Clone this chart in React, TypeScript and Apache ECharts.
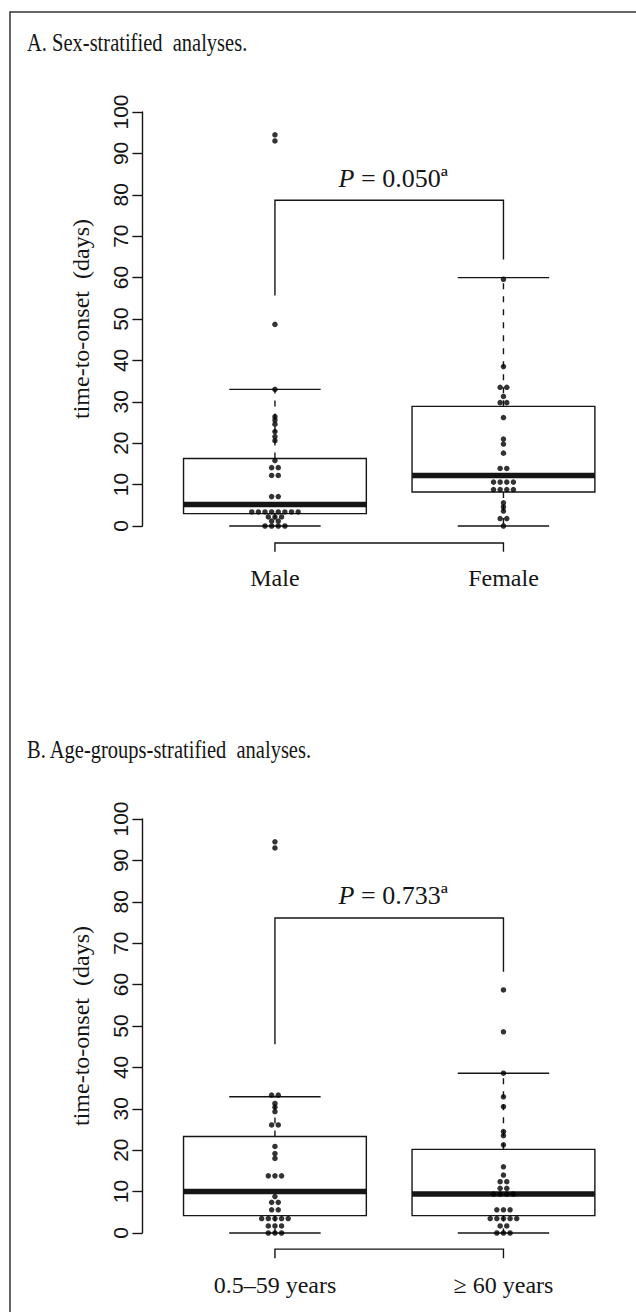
import React, { useEffect, useRef } from "react";
import * as echarts from "echarts";

// ---------- data ----------
const titleA = "A. Sex-stratified  analyses.";
const titleB = "B. Age-groups-stratified  analyses.";
const yAxisTitle = "time-to-onset  (days)";
const groupsA = ["Male", "Female"];
const groupsB = ["0.5–59 years", "≥ 60 years"];
const yTicks = [0, 10, 20, 30, 40, 50, 60, 70, 80, 90, 100];

// box statistics: [lower whisker, Q1, median, Q3, upper whisker]
const boxMaleA = [0, 3, 5.2, 16.3, 33];
const boxFemaleA = [0, 8.2, 12.2, 28.9, 60];
const boxYoungB = [0, 4.2, 10, 23.3, 32.9];
const boxOldB = [0, 4.2, 9.4, 20.2, 38.6];

// individual observations (days)
const dotsMaleA = [
  0, 0, 0, 0, 1.2, 1.2, 2.2, 2.2, 2.2, 3.4, 3.4, 3.4, 3.4, 3.4, 3.4, 3.4, 3.4,
  7.1, 7.1, 12.2, 12.2, 14.1, 14.1, 15.8, 20.6, 21.6, 22.8, 24.6, 25.6, 26.4,
  33, 48.7, 93, 94.5,
];
const dotsFemaleA = [
  0, 1.8, 1.8, 3.6, 4.6, 5.6, 8.8, 8.8, 8.8, 8.8, 10.6, 10.6, 10.6, 10.6,
  13.9, 13.9, 17.6, 19.8, 21, 26.2, 29.8, 29.8, 31.3, 33.5, 33.5, 38.5, 59.6,
];
const dotsYoungB = [
  0, 0, 0, 1.7, 1.7, 1.7, 3.5, 3.5, 3.5, 3.5, 3.5, 5.6, 5.6, 7.4, 7.4, 8.8,
  13.8, 13.8, 13.8, 18, 19.2, 20.9, 26.1, 26.1, 29.3, 30.4, 31.3, 33.3, 33.3,
  93, 94.5,
];
const dotsOldB = [
  0, 0, 0, 1.7, 1.7, 3.5, 3.5, 3.5, 3.5, 3.5, 5.6, 5.6, 5.6, 9.4, 9.4, 9.4,
  9.4, 10.8, 10.8, 12.4, 12.4, 14, 16, 21.3, 23.5, 24.5, 30.5, 32.9, 38.6,
  48.6, 58.7,
];

// comparison brackets: [top, left leg end, right leg end]
const bracketA = [78.7, 55.7, 64.4];
const bracketB = [76.1, 45.6, 63.1];
const pValueA = "0.050";
const pValueB = "0.733";
// bottom brackets: [line level, leg end]
const baseBracketA = [-4.1, -6.2];
const baseBracketB = [-3.9, -6.1];

// ---------- helpers ----------
const INK = "#151515";
const SERIF = "'Liberation Serif', 'DejaVu Serif', serif";
const SANS = "'Liberation Sans', Arial, sans-serif";
const STACK_STEP = 0.029;

function stackPoints(values: number[], center: number) {
  const counts = new Map<number, number>();
  values.forEach((v) => counts.set(v, (counts.get(v) || 0) + 1));
  const seen = new Map<number, number>();
  return values.map((v) => {
    const n = counts.get(v) as number;
    const i = seen.get(v) || 0;
    seen.set(v, i + 1);
    return [center + (i - (n - 1) / 2) * STACK_STEP, v];
  });
}

const boxRender = (params: any, api: any) => {
  const x = api.value(0);
  const mn = api.value(1);
  const q1 = api.value(2);
  const md = api.value(3);
  const q3 = api.value(4);
  const mx = api.value(5);
  const tl = api.coord([x - 0.4, q3]);
  const br = api.coord([x + 0.4, q1]);
  const mL = api.coord([x - 0.4, md]);
  const mR = api.coord([x + 0.4, md]);
  const c = api.coord([x, 0])[0];
  const yMin = api.coord([x, mn])[1];
  const yMax = api.coord([x, mx])[1];
  const capL = api.coord([x - 0.2, 0])[0];
  const capR = api.coord([x + 0.2, 0])[0];
  const line = { stroke: INK, lineWidth: 1.4 };
  return {
    type: "group",
    children: [
      {
        type: "rect",
        shape: { x: tl[0], y: tl[1], width: br[0] - tl[0], height: br[1] - tl[1] },
        style: { fill: "#fff", stroke: INK, lineWidth: 1.4 },
      },
      {
        type: "line",
        shape: { x1: c, y1: tl[1], x2: c, y2: yMax },
        style: { ...line, lineDash: [6, 7] },
      },
      {
        type: "line",
        shape: { x1: c, y1: br[1], x2: c, y2: yMin },
        style: { ...line, lineDash: [6, 7] },
      },
      { type: "line", shape: { x1: capL, y1: yMax, x2: capR, y2: yMax }, style: line },
      { type: "line", shape: { x1: capL, y1: yMin, x2: capR, y2: yMin }, style: line },
      {
        type: "line",
        shape: { x1: mL[0], y1: mL[1], x2: mR[0], y2: mR[1] },
        style: { stroke: INK, lineWidth: 5.5 },
      },
    ],
  };
};

const makeBracketRender = (pValue: string) => (params: any, api: any) => {
  const xl = api.value(0);
  const xr = api.value(1);
  const top = api.value(2);
  const tl = api.coord([xl, top]);
  const tr = api.coord([xr, top]);
  const lb = api.coord([xl, api.value(3)]);
  const rb = api.coord([xr, api.value(4)]);
  const mid = api.coord([(xl + xr) / 2, top]);
  return {
    type: "group",
    children: [
      {
        type: "polyline",
        shape: { points: [lb, tl, tr, rb] },
        style: { stroke: INK, lineWidth: 1.4, fill: null },
      },
      {
        type: "text",
        x: mid[0] + 4,
        y: mid[1] - 22,
        style: {
          text: "{p|P} = " + pValue + "ª",
          align: "center",
          verticalAlign: "middle",
          fill: INK,
          font: "26px " + SERIF,
          rich: { p: { fontStyle: "italic", fontSize: 26, fontFamily: SERIF, fill: INK } },
        },
      },
    ],
  };
};

const baseBracketRender = (params: any, api: any) => {
  const xl = api.value(0);
  const xr = api.value(1);
  const l1 = api.coord([xl, api.value(2)]);
  const r1 = api.coord([xr, api.value(2)]);
  const l2 = api.coord([xl, api.value(3)]);
  const r2 = api.coord([xr, api.value(3)]);
  return {
    type: "polyline",
    shape: { points: [l2, l1, r1, r2] },
    style: { stroke: INK, lineWidth: 1.4, fill: null },
  };
};

function makeAxes(idx: number, groups: string[]) {
  const x = {
    gridIndex: idx,
    type: "value",
    min: 0.42,
    max: 2.58,
    axisLine: { show: false },
    axisTick: { show: false },
    splitLine: { show: false },
    axisLabel: {
      customValues: [1, 2],
      formatter: (v: number) => groups[Math.round(v) - 1],
      margin: 40,
      fontSize: 24,
      fontFamily: SERIF,
      color: INK,
    },
  };
  const y = {
    gridIndex: idx,
    type: "value",
    min: 0,
    max: 100,
    interval: 10,
    axisLine: { show: true, lineStyle: { color: INK, width: 1.4 } },
    axisTick: { show: true, length: 10, lineStyle: { color: INK, width: 1.4 } },
    splitLine: { show: false },
    axisLabel: {
      customValues: yTicks,
      rotate: 90,
      margin: 11,
      fontSize: 21,
      fontFamily: SANS,
      color: INK,
    },
    name: yAxisTitle,
    nameLocation: "middle",
    nameRotate: 90,
    nameGap: 49,
    nameTextStyle: { fontFamily: SERIF, fontSize: 24, color: INK },
  };
  return { x, y };
}

export default function App() {
  const ref = useRef<HTMLDivElement>(null);
  useEffect(() => {
    if (!ref.current) return;
    const chart = echarts.init(ref.current, undefined, { renderer: "svg" });
    const a = makeAxes(0, groupsA);
    const b = makeAxes(1, groupsB);
    const scatterStyle = { color: "#000" };
    chart.setOption({
      animation: false,
      backgroundColor: "#fff",
      grid: [
        { left: 142.4, top: 112, width: 503, height: 414 },
        { left: 142.4, top: 819, width: 503, height: 414 },
      ],
      xAxis: [a.x, b.x],
      yAxis: [a.y, b.y],
      graphic: [
        {
          type: "rect",
          shape: { x: 10, y: 12, width: 700, height: 1400 },
          style: { fill: null, stroke: "#333", lineWidth: 1.5 },
          silent: true,
        },
        {
          type: "text",
          x: 27,
          y: 43,
          scaleX: 0.82,
          style: { text: titleA, font: "25px " + SERIF, fill: INK, align: "left", verticalAlign: "middle" },
        },
        {
          type: "text",
          x: 27,
          y: 750,
          scaleX: 0.82,
          style: { text: titleB, font: "25px " + SERIF, fill: INK, align: "left", verticalAlign: "middle" },
        },
      ],
      series: [
        {
          type: "custom",
          xAxisIndex: 0,
          yAxisIndex: 0,
          renderItem: boxRender,
          data: [[1, ...boxMaleA], [2, ...boxFemaleA]],
          z: 2,
        },
        {
          type: "scatter",
          xAxisIndex: 0,
          yAxisIndex: 0,
          symbolSize: 5.5,
          itemStyle: scatterStyle,
          data: [...stackPoints(dotsMaleA, 1), ...stackPoints(dotsFemaleA, 2)],
          z: 5,
        },
        {
          type: "custom",
          xAxisIndex: 0,
          yAxisIndex: 0,
          renderItem: makeBracketRender(pValueA),
          data: [[1, 2, ...bracketA]],
          z: 3,
        },
        {
          type: "custom",
          xAxisIndex: 0,
          yAxisIndex: 0,
          renderItem: baseBracketRender,
          data: [[1, 2, ...baseBracketA]],
          z: 3,
        },
        {
          type: "custom",
          xAxisIndex: 1,
          yAxisIndex: 1,
          renderItem: boxRender,
          data: [[1, ...boxYoungB], [2, ...boxOldB]],
          z: 2,
        },
        {
          type: "scatter",
          xAxisIndex: 1,
          yAxisIndex: 1,
          symbolSize: 5.5,
          itemStyle: scatterStyle,
          data: [...stackPoints(dotsYoungB, 1), ...stackPoints(dotsOldB, 2)],
          z: 5,
        },
        {
          type: "custom",
          xAxisIndex: 1,
          yAxisIndex: 1,
          renderItem: makeBracketRender(pValueB),
          data: [[1, 2, ...bracketB]],
          z: 3,
        },
        {
          type: "custom",
          xAxisIndex: 1,
          yAxisIndex: 1,
          renderItem: baseBracketRender,
          data: [[1, 2, ...baseBracketB]],
          z: 3,
        },
      ],
    });
    return () => chart.dispose();
  }, []);
  return (
    <div
      ref={ref}
      style={{ position: "absolute", left: 0, top: 0, width: 636, height: 1312 }}
    />
  );
}
